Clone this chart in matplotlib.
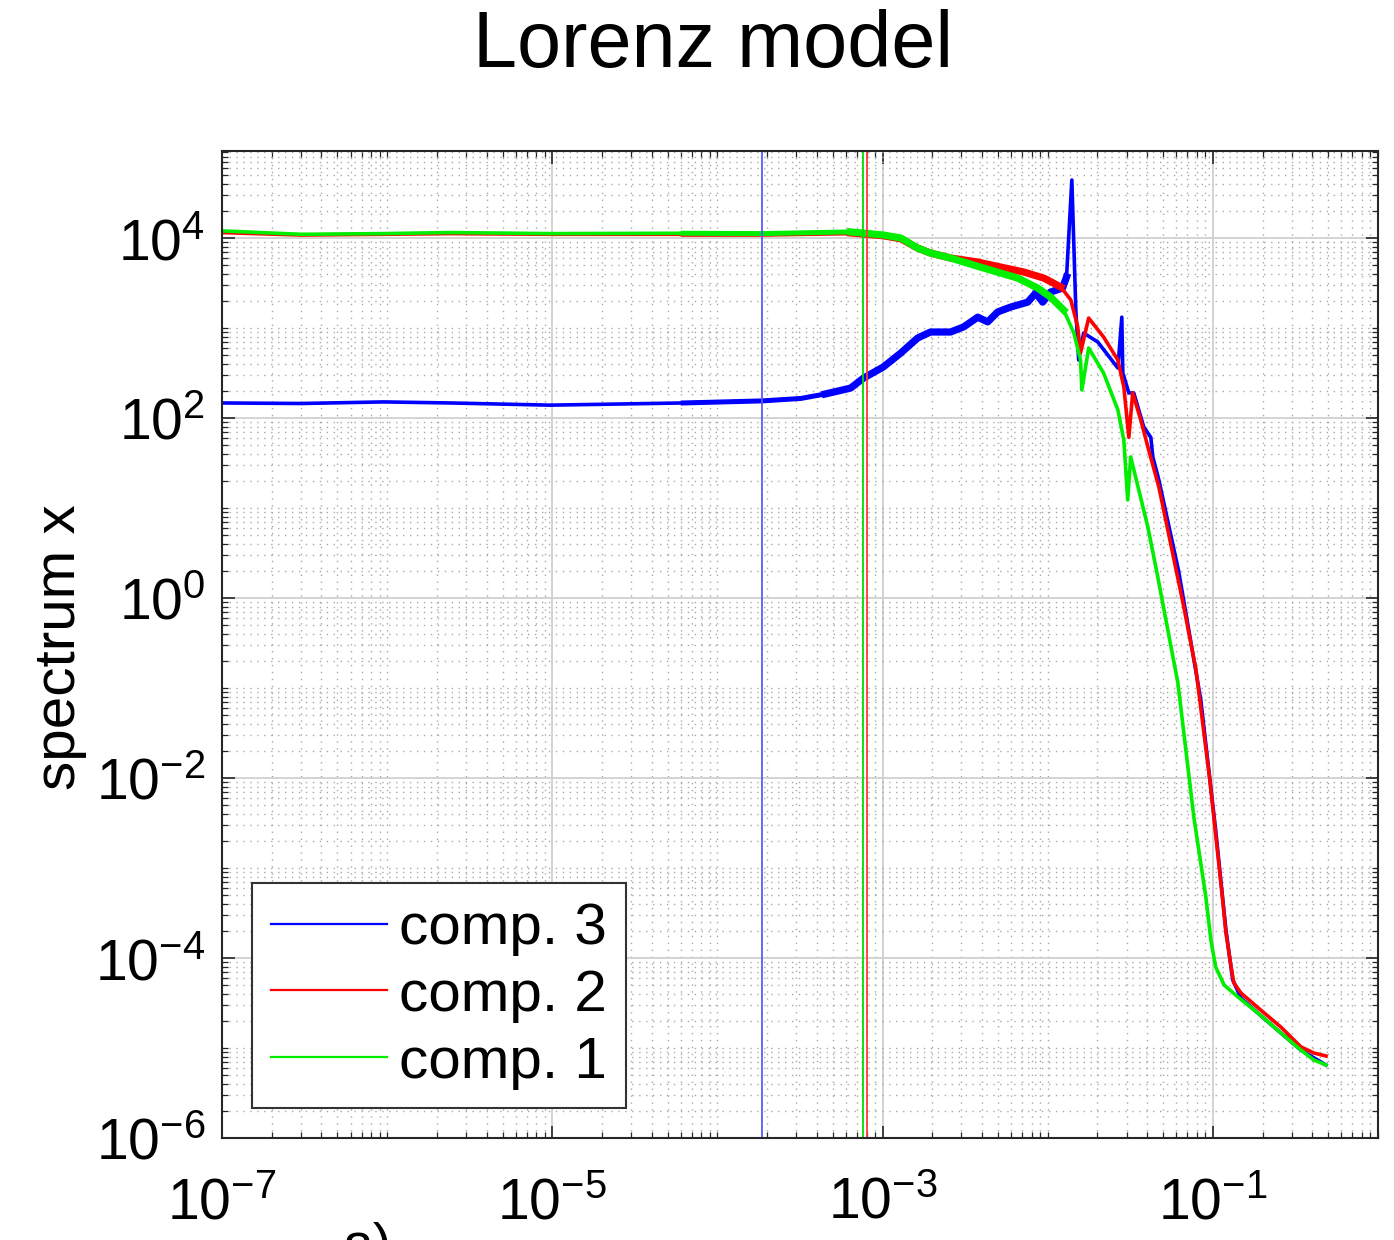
"""Lorenz model: spectra of the three components (log-log)."""
import matplotlib
matplotlib.use("Agg")
import matplotlib.pyplot as plt
import numpy as np
from matplotlib.ticker import FixedLocator, LogLocator, NullFormatter
from matplotlib.lines import Line2D

plt.rcParams["font.family"] = ["Liberation Sans", "DejaVu Sans"]
plt.rcParams["mathtext.default"] = "regular"

# ---- data ---------------------------------------------------------------
# comp. 3 (blue)
X3 = [1e-7, 3e-7, 9.5e-7, 2.4e-6, 9.7e-6, 6.2e-5, 1.87e-4, 3.2e-4, 4.5e-4,
      6.4e-4, 7.67e-4, 1.01e-3, 1.29e-3, 1.63e-3, 1.95e-3, 2.58e-3, 3.1e-3,
      3.77e-3, 4.33e-3, 4.98e-3, 5.97e-3, 7.57e-3, 8.46e-3, 9.33e-3, 1.04e-2,
      1.23e-2, 1.30e-2, 1.40e-2, 1.48e-2, 1.54e-2, 1.65e-2, 2.01e-2, 2.66e-2,
      2.81e-2, 2.85e-2, 3.10e-2, 3.32e-2, 3.82e-2, 4.21e-2, 4.33e-2, 4.71e-2,
      6.22e-2, 8.45e-2, 0.104, 0.120, 0.132, 0.148, 0.187, 0.258, 0.341, 0.484]
Y3 = [147, 145, 151, 147, 139, 147, 155, 165, 185,
      215, 278, 369, 528, 774, 903, 903, 1030,
      1320, 1170, 1510, 1710, 1940, 2450, 1940, 2510,
      2780, 3690, 4.41e4, 1580, 441, 880, 699, 359,
      1320, 316, 190, 190, 79, 61, 37, 20.5,
      1.95, 7.4e-2, 2.64e-3, 2.05e-4, 5.7e-5, 3.59e-5, 2.45e-5, 1.47e-5, 9.5e-6, 6.47e-6]

# comp. 2 (red)
X2 = [1e-7, 3e-7, 9.5e-7, 2.4e-6, 9.7e-6, 6.2e-5, 1.87e-4, 6.4e-4, 1.01e-3,
      1.29e-3, 1.63e-3, 1.95e-3, 2.58e-3, 3.77e-3, 5.19e-3, 7.16e-3, 9.46e-3,
      1.20e-2, 1.38e-2, 1.52e-2, 1.58e-2, 1.77e-2, 2.18e-2, 2.66e-2, 2.89e-2,
      3.10e-2, 3.27e-2, 3.66e-2, 4.09e-2, 4.71e-2, 6.58e-2, 7.89e-2, 9.59e-2,
      0.115, 0.120, 0.129, 0.134, 0.148, 0.195, 0.258, 0.341, 0.409, 0.484]
Y2 = [1.15e4, 1.08e4, 1.1e4, 1.12e4, 1.1e4, 1.1e4, 1.1e4, 1.14e4, 1.06e4,
      9.8e3, 7.74e3, 6.81e3, 6.0e3, 5.41e3, 4.76e3, 4.19e3, 3.59e3,
      2.86e3, 2.05e3, 1.03e3, 528, 1290, 794, 441, 221,
      61, 190, 95, 44, 17.1, 0.90, 0.163, 9.5e-3,
      4.19e-4, 1.90e-4, 7.94e-5, 5.28e-5, 4.08e-5, 2.64e-5, 1.71e-5, 1.03e-5, 8.8e-6, 8.15e-6]

# comp. 1 (green)
X1 = [1e-7, 3e-7, 9.5e-7, 2.4e-6, 9.7e-6, 6.2e-5, 1.87e-4, 6.4e-4, 1.01e-3,
      1.29e-3, 1.63e-3, 1.95e-3, 2.58e-3, 3.9e-3, 6.58e-3, 8.69e-3, 1.04e-2,
      1.25e-2, 1.44e-2, 1.58e-2, 1.61e-2, 1.77e-2, 2.18e-2, 2.66e-2, 2.89e-2,
      3.05e-2, 3.18e-2, 4.04e-2, 4.64e-2, 6.14e-2, 7.67e-2, 9.07e-2, 9.73e-2,
      0.104, 0.117, 0.142, 0.187, 0.258, 0.341, 0.409, 0.484]
Y1 = [1.2e4, 1.1e4, 1.12e4, 1.15e4, 1.12e4, 1.13e4, 1.12e4, 1.17e4, 1.08e4,
      1.0e4, 7.74e3, 6.81e3, 6.0e3, 4.76e3, 3.59e3, 2.78e3, 2.21e3,
      1.58e3, 880, 441, 205, 600, 316, 123, 57,
      12.3, 37, 6.15, 1.71, 0.114, 3.69e-3, 4.76e-4, 1.58e-4,
      7.94e-5, 5.01e-5, 3.69e-5, 2.45e-5, 1.47e-5, 9.5e-6, 7.36e-6, 6.47e-6]

# vertical markers (blue, green, red)
VLINES = [1.87e-4, 7.57e-4, 8.1e-4]
SERIES = [("comp. 3", X3, Y3, "#0000ff"),
          ("comp. 2", X2, Y2, "#ff0000"),
          ("comp. 1", X1, Y1, "#00ee00")]
VCOLORS = ["#5a5aff", "#00dd00", "#ff3b3b"]

XTICKS = [1e-7, 1e-5, 1e-3, 1e-1]
YTICKS = [1e-6, 1e-4, 1e-2, 1e0, 1e2, 1e4]

# ---- figure ---------------------------------------------------------------
W, H = 1394, 1240
fig = plt.figure(figsize=(W / 100, H / 100), dpi=100)
ax = fig.add_axes([222 / W, 1 - 1138 / H, (1378 - 222) / W, (1138 - 151) / H])

for label, xs, ys, col in SERIES:
    xs = np.array(xs)
    ys = np.array(ys)
    ax.plot(xs, ys, color=col, lw=2.6, solid_joinstyle="round")
    mid = (xs >= 1e-5) & (xs <= 1.3e-2)
    ax.plot(xs[mid], ys[mid], color=col, lw=3.6, solid_joinstyle="round")
    dense = (xs >= 4e-4) & (xs <= 1.3e-2)
    ax.plot(xs[dense], ys[dense], color=col, lw=5.2, solid_joinstyle="round")

for xv, col in zip(VLINES, VCOLORS):
    ax.axvline(xv, color=col, lw=1.3)

ax.set_xscale("log")
ax.set_yscale("log")
ax.set_xlim(1e-7, 1.0)
ax.set_ylim(1e-6, 10 ** 4.967)

ax.xaxis.set_major_locator(FixedLocator(XTICKS))
ax.yaxis.set_major_locator(FixedLocator(YTICKS))
ax.xaxis.set_minor_locator(LogLocator(base=10, subs=np.arange(1, 10), numticks=100))
ax.yaxis.set_minor_locator(LogLocator(base=10, subs=np.arange(1, 10), numticks=100))
ax.xaxis.set_minor_formatter(NullFormatter())
ax.yaxis.set_minor_formatter(NullFormatter())

ax.grid(True, which="major", color="#d0d0d0", lw=1.3, ls="-")
ax.grid(True, which="minor", color="#a8a8a8", lw=1.0, ls=(0, (1, 4)))
ax.set_axisbelow(True)

ax.tick_params(which="both", direction="in", top=True, right=True,
               colors="#262626", labelcolor="black")
ax.tick_params(which="major", length=9, width=1.2, labelsize=41)
ax.tick_params(which="minor", length=4.5, width=0.9)
ax.tick_params(axis="x", which="major", pad=28)
ax.tick_params(axis="y", which="major", pad=12)
for sp in ax.spines.values():
    sp.set_color("#262626")
    sp.set_linewidth(1.5)

handles = [Line2D([], [], color=c, lw=1.6) for _, _, _, c in SERIES]
leg = ax.legend(handles, [s[0] for s in SERIES], loc="lower left",
                bbox_to_anchor=(0.026, 0.030), borderaxespad=0,
                fontsize=42, handlelength=2.0, handletextpad=0.2,
                labelspacing=0.22, borderpad=0.32, fancybox=False,
                framealpha=1, edgecolor="#333333")
leg.get_frame().set_linewidth(1.5)

fig.text(713 / W, 1 - 47 / H, "Lorenz model", fontsize=57, ha="center", va="center")
fig.text(60 / W, 1 - 647 / H, "spectrum x", fontsize=42, rotation=90,
         ha="center", va="center")
fig.text(343 / W, 1 - 1262 / H, "a)", fontsize=40, ha="left", va="baseline")

fig.savefig("out.png", dpi=100)
